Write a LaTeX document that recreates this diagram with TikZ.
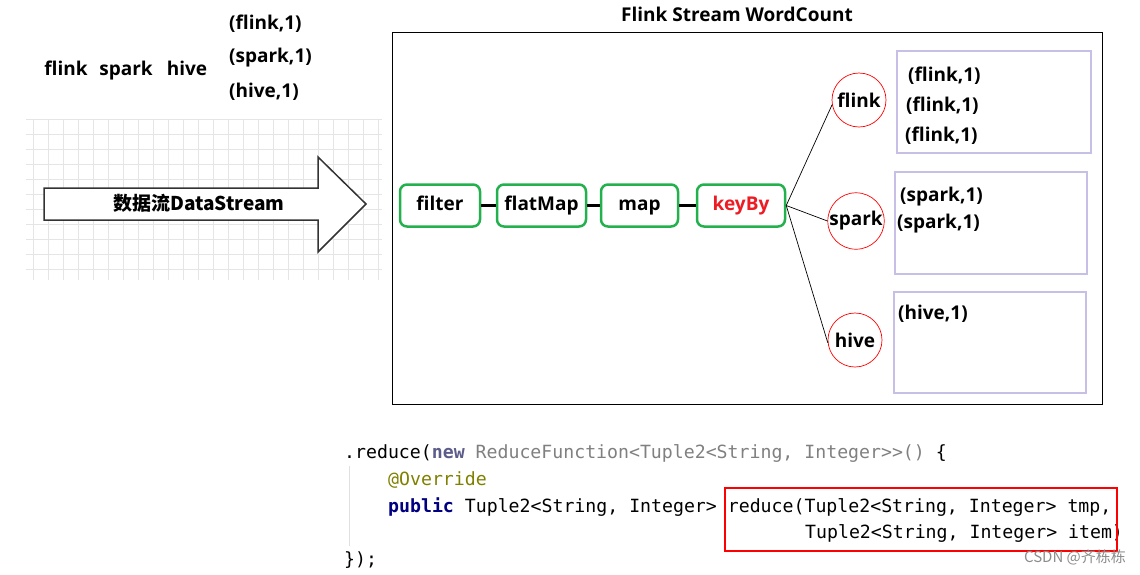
\documentclass[tikz,border=0pt]{standalone}
\usepackage{fontspec}
\setmainfont{Open Sans}
\setmonofont{DejaVu Sans Mono}
\newfontfamily\cjk{Noto Sans CJK SC}
\usetikzlibrary{positioning}
\definecolor{opgreen}{HTML}{22B14C}
\definecolor{keyred}{HTML}{ED1C24}
\definecolor{grplilac}{HTML}{C8BFE7}
\definecolor{kwnavy}{HTML}{000080}
\definecolor{newnavy}{HTML}{5C5C8A}
\definecolor{annolive}{HTML}{808000}
\definecolor{arrowgray}{HTML}{333333}

\begin{document}
\begin{tikzpicture}[x=1pt, y=-1pt,
  lbl/.style={font=\bfseries\fontsize{19}{22}\selectfont, inner sep=0pt},
  op/.style={lbl, draw=opgreen, line width=2.5pt, rounded corners=7pt,
    minimum height=42pt, text height=14pt, text depth=4pt},
  keyc/.style={lbl, draw=red, line width=0.7pt, circle, minimum size=54pt},
  grp/.style={draw=grplilac, line width=2.5pt, inner sep=0pt},
  pair/.style={lbl, anchor=west},
  code/.style={font=\ttfamily\fontsize{18.2}{22}\selectfont, anchor=base west, inner sep=0pt}]
\useasboundingbox (0,0) rectangle (1140,574);

% 单词与二元组
\node[lbl, anchor=base] (wflink) at (66,75.5) {flink};
\node[lbl, anchor=base] (wspark) at (126,75.5) {spark};
\node[lbl, anchor=base] (whive) at (187,75.5) {hive};
\node[pair] (tflink) at (229,24) {(flink,1)};
\node[pair] (tspark) at (229,58) {(spark,1)};
\node[pair] (thive) at (229,92) {(hive,1)};

% 网格背景
\begin{scope}
\clip (26,119) rectangle (382,280);
\foreach \gx in {33,48,...,383} \draw[black!10, line width=0.8pt] (\gx,119) -- (\gx,280);
\foreach \gy in {119,134,...,280} \draw[black!10, line width=0.8pt] (26,\gy) -- (382,\gy);
\end{scope}

% 数据流箭头
\draw[arrowgray, fill=white, line width=1.5pt]
  (44,188) -- (318,188) -- (318,157) -- (366,204) -- (318,252) -- (318,220) -- (44,220) -- cycle;
\node[font=\cjk\bfseries\fontsize{19}{22}\selectfont, inner sep=0pt] (flow) at (199,203) {数据流DataStream};

% 外框
\draw[line width=1pt] (392,32) rectangle (1102,404);
\node[lbl] (title) at (737,14) {Flink Stream WordCount};

% 算子
\node[op, minimum width=80pt] (filter) at (440,205.5) {filter};
\node[op, minimum width=89pt, right=14.5pt of filter] (flatmap) {flatMap};
\node[op, minimum width=77pt, right=12.5pt of flatmap] (map) {map};
\node[op, minimum width=88pt, right=16.5pt of map, text=keyred] (keyby) {keyBy};
\draw[line width=2.5pt] (filter) -- (flatmap);
\draw[line width=2.5pt] (flatmap) -- (map);
\draw[line width=2.5pt] (map) -- (keyby);

% 分组
\node[keyc] (cflink) at (859,100) {flink};
\node[keyc] (cspark) at (856,221) {spark};
\node[keyc] (chive) at (855,340) {hive};
\draw[line width=0.7pt] (keyby.east) -- (cflink.190);
\draw[line width=0.7pt] (keyby.east) -- (cspark.west);
\draw[line width=0.7pt] (keyby.east) -- (chive.186);

\node[grp, minimum width=194pt, minimum height=102pt] (gflink) at (994,102) {};
\node[grp, minimum width=192pt, minimum height=102pt] (gspark) at (991,223) {};
\node[grp, minimum width=192pt, minimum height=101pt] (ghive) at (990,342.5) {};
\node[pair] (pf1) at (908,76) {(flink,1)};
\node[pair] (pf2) at (906,106) {(flink,1)};
\node[pair] (pf3) at (905,136) {(flink,1)};
\node[pair] (ps1) at (900,197) {(spark,1)};
\node[pair] (ps2) at (897,224) {(spark,1)};
\node[pair] (ph1) at (898,314) {(hive,1)};

% reduce 代码
\draw[black!12, line width=0.8pt] (349,466) -- (349,546);
\node[code] (ln1) at (344,458) {.reduce(\textcolor{newnavy}{\bfseries new} \textcolor{gray}{ReduceFunction<Tuple2<String, Integer>>()} \{};
\node[code, text=annolive] (ln2) at (388,485) {@Override};
\node[code] (ln3) at (388,512) {\textcolor{kwnavy}{\bfseries public} Tuple2<String, Integer> reduce(Tuple2<String, Integer> tmp,};
\node[code] (ln4) at (805,538) {Tuple2<String, Integer> item)};
\node[code] (ln5) at (344,565) {\});};
\draw[red, line width=2.5pt] (725,488) rectangle (1117,551);

\node[font=\cjk\fontsize{15}{17}\selectfont, text=black!45, inner sep=0pt] (mark) at (1075,557) {CSDN @齐栋栋};
\end{tikzpicture}
\end{document}
